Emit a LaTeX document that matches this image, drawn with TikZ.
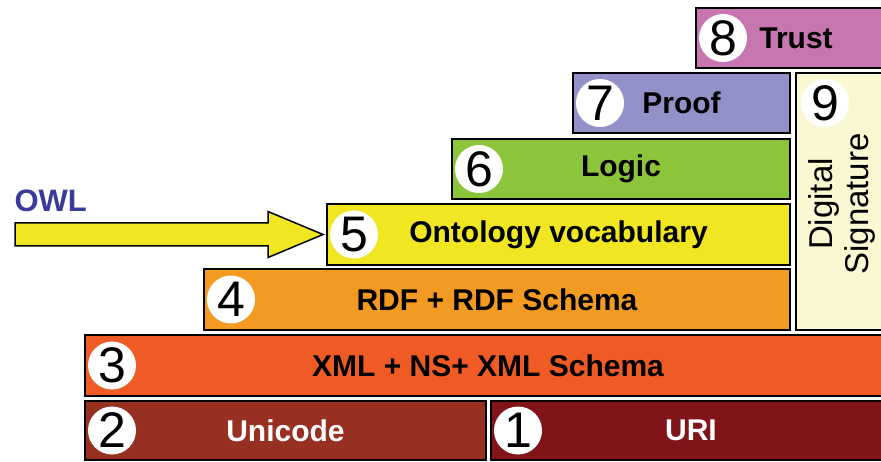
\documentclass[tikz,border=0pt]{standalone}
\usepackage{fontspec}
\setmainfont{Liberation Sans}

\definecolor{trustc}{HTML}{C876B0}
\definecolor{proofc}{HTML}{9292C8}
\definecolor{sigc}{HTML}{FAF8D2}
\definecolor{logicc}{HTML}{8CC43C}
\definecolor{ontoc}{HTML}{F0E622}
\definecolor{rdfc}{HTML}{F39A22}
\definecolor{xmlc}{HTML}{F05A24}
\definecolor{unic}{HTML}{983022}
\definecolor{uric}{HTML}{801418}
\definecolor{owlc}{HTML}{3A3A9A}

\tikzset{
	layer/.style={draw=black, line width=2pt, anchor=north west, inner sep=0pt,
		font=\bfseries\fontsize{30}{32}\selectfont},
	numc/.style={circle, fill=white, minimum size=48pt, inner sep=0pt,
		font=\fontsize{50}{50}\selectfont},
	bigarrow/.style={draw=black, line width=1.5pt, fill=ontoc, line join=miter}
}

\begin{document}
\begin{tikzpicture}[x=1pt,y=-1pt]
	\useasboundingbox (0,0) rectangle (881,462);
	% layers, bottom to top
	\node (uni) [layer, fill=unic, text=white, minimum width=401pt, minimum height=59pt] at (84,400) {Unicode};
	\node (uri) [layer, fill=uric, text=white, minimum width=400pt, minimum height=59pt] at (490,400) {URI};
	\node (xml) [layer, fill=xmlc, minimum width=806pt, minimum height=61pt] at (84,334) {XML + NS+ XML Schema};
	\node (rdf) [layer, fill=rdfc, minimum width=586pt, minimum height=61pt] at (203,268) {RDF + RDF Schema};
	\node (onto) [layer, fill=ontoc, minimum width=463pt, minimum height=61pt] at (326,203) {Ontology vocabulary};
	\node (logic) [layer, fill=logicc, minimum width=338pt, minimum height=60pt] at (451,138) {Logic};
	\node (proof) [layer, fill=proofc, minimum width=217pt, minimum height=60pt] at (572,72) {Proof};
	\node (trust) [layer, fill=trustc, minimum width=200pt, minimum height=60pt] at (695,7) {Trust};
	\node (sig) [layer, fill=sigc, minimum width=95pt, minimum height=257pt] at (795,72) {};
	\node (sigtext) [rotate=90, align=center, font=\fontsize{33}{36}\selectfont] at (842,204) {Digital\\Signature};

	% numbers
	\node (n1) [numc] at ([xshift=28pt]uri.west) {1};
	\node (n2) [numc] at ([xshift=28pt]uni.west) {2};
	\node (n3) [numc] at ([xshift=28pt]xml.west) {3};
	\node (n4) [numc] at ([xshift=28pt]rdf.west) {4};
	\node (n5) [numc] at ([xshift=28pt]onto.west) {5};
	\node (n6) [numc] at ([xshift=28pt]logic.west) {6};
	\node (n7) [numc] at ([xshift=28pt]proof.west) {7};
	\node (n8) [numc] at ([xshift=28pt]trust.west) {8};
	\node (n9) [numc] at (825,103) {9};

	% OWL arrow
	\node (owl) [text=owlc, font=\bfseries\fontsize{31}{32}\selectfont, anchor=west] at (11,201) {OWL};
	\coordinate (tip) at ([xshift=-3pt]onto.west);
	\draw[bigarrow] (tip) -- ++(-55,-23) -- ++(0,11.5) -- ++(-253,0) -- ++(0,23)
		-- ++(253,0) -- ++(0,11.5) -- cycle;
\end{tikzpicture}
\end{document}
